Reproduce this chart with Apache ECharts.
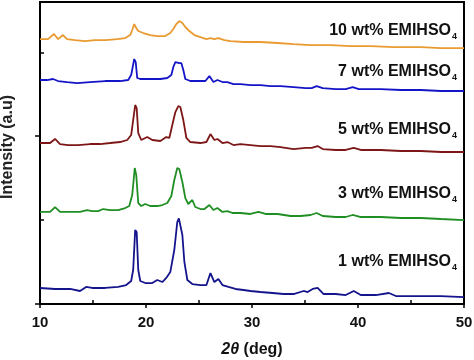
<!DOCTYPE html>
<html>
<head>
<meta charset="utf-8">
<script src="https://cdn.jsdelivr.net/npm/echarts@6/dist/echarts.min.js"></script>
<style>
html,body{margin:0;padding:0;background:#fff;}
#chart{width:474px;height:360px;}
</style>
</head>
<body>
<div id="chart"></div>
<script>
// ---- data (2θ in deg, stacked intensity in arbitrary units) ----
const seriesNames = ['1 wt% EMIHSO4', '3 wt% EMIHSO4', '5 wt% EMIHSO4', '7 wt% EMIHSO4', '10 wt% EMIHSO4'];
const seriesColors = ['#14148c', '#1f8f23', '#7d1717', '#1515c8', '#e99a30'];

const wt1 = [
[10.0,0.191],[11.42,0.179],[12.84,0.179],[13.78,0.155],[14.35,0.203],[14.92,0.191],[16.15,0.191],[17.38,0.203],
[18.13,0.226],[18.6,0.274],[18.79,0.405],[18.98,0.882],[19.12,0.858],[19.27,0.405],[19.46,0.274],[19.93,0.25],
[20.59,0.25],[21.06,0.286],[21.54,0.262],[21.91,0.31],[22.29,0.381],[22.67,0.644],[22.95,0.977],[23.1,1.02],[23.24,1.013],
[23.43,0.822],[23.62,0.501],[23.9,0.286],[24.37,0.238],[25.13,0.226],[25.7,0.226],[26.08,0.369],[26.45,0.262],
[26.83,0.298],[27.21,0.226],[27.78,0.203],[28.44,0.179],[29.2,0.167],[29.86,0.155],[30.8,0.143],[31.94,0.131],
[32.98,0.119],[33.92,0.119],[34.87,0.155],[35.25,0.143],[35.72,0.179],[36.19,0.191],[36.76,0.119],[37.9,0.119],
[38.84,0.107],[39.6,0.155],[40.26,0.107],[41.68,0.107],[42.91,0.131],[43.57,0.095],[45.93,0.095],[47.82,0.095],[50.0,0.083]
];
const wt3 = [
[10.0,1.097],[10.95,1.097],[11.42,1.156],[11.89,1.097],[12.84,1.097],[13.78,1.097],[14.44,1.12],[14.92,1.108],
[15.48,1.108],[15.96,1.132],[16.62,1.12],[17.38,1.12],[18.04,1.144],[18.42,1.168],[18.7,1.299],[18.94,1.621],
[19.08,1.537],[19.27,1.204],[19.55,1.168],[19.93,1.192],[20.4,1.168],[21.06,1.168],[21.54,1.18],[22.01,1.204],
[22.39,1.287],[22.67,1.478],[22.95,1.621],[23.14,1.609],[23.43,1.454],[23.71,1.263],[23.99,1.192],[24.37,1.24],
[24.65,1.156],[25.13,1.132],[25.51,1.132],[25.98,1.18],[26.36,1.12],[26.74,1.144],[27.21,1.097],[27.68,1.108],
[28.16,1.085],[28.91,1.085],[29.86,1.073],[30.61,1.097],[31.28,1.073],[32.41,1.073],[33.64,1.049],[34.59,1.049],
[35.53,1.061],[36.1,1.085],[36.67,1.049],[37.9,1.037],[38.84,1.037],[39.5,1.061],[40.26,1.037],[42.15,1.037],
[44.04,1.025],[45.93,1.025],[47.82,1.013],[50.0,1.001]
];
const wt5 = [
[10.0,1.919],[10.95,1.919],[11.42,1.967],[11.89,1.907],[12.65,1.895],[13.59,1.895],[14.73,1.907],[15.67,1.907],
[16.62,1.919],[17.56,1.931],[18.23,1.955],[18.6,2.014],[18.79,2.193],[18.98,2.372],[19.12,2.336],[19.27,2.038],
[19.55,1.955],[20.12,1.99],[20.59,1.955],[21.35,1.943],[21.91,1.99],[22.2,1.979],[22.48,2.133],[22.77,2.288],
[23.05,2.36],[23.24,2.348],[23.52,2.193],[23.81,1.979],[24.18,1.931],[25.13,1.919],[25.7,1.931],[26.08,2.026],
[26.45,1.955],[26.74,1.967],[27.21,1.919],[27.68,1.931],[28.25,1.895],[28.91,1.907],[29.86,1.895],[30.8,1.883],
[31.75,1.883],[32.7,1.871],[33.92,1.847],[35.06,1.86],[35.63,1.86],[36.19,1.883],[36.67,1.847],[37.9,1.836],
[38.84,1.836],[39.6,1.86],[40.26,1.836],[42.15,1.836],[44.04,1.824],[45.93,1.824],[47.82,1.812],[50.0,1.812]
];
const wt7 = [
[10.0,2.67],[10.66,2.67],[11.23,2.682],[11.7,2.658],[12.55,2.646],[13.5,2.634],[14.73,2.646],[16.15,2.658],
[17.56,2.658],[18.32,2.67],[18.6,2.729],[18.89,2.92],[19.03,2.884],[19.17,2.694],[19.46,2.682],[20.4,2.682],
[21.35,2.682],[22.01,2.694],[22.39,2.729],[22.58,2.825],[22.77,2.884],[22.95,2.884],[23.14,2.872],[23.33,2.872],
[23.52,2.789],[23.71,2.682],[24.18,2.658],[25.13,2.658],[25.6,2.658],[25.98,2.717],[26.36,2.646],[26.74,2.67],
[27.21,2.646],[27.68,2.646],[28.25,2.622],[28.91,2.622],[29.86,2.61],[30.8,2.61],[31.75,2.598],[32.7,2.598],
[33.92,2.586],[35.06,2.574],[35.63,2.574],[36.1,2.598],[36.67,2.574],[37.9,2.562],[38.84,2.562],[39.5,2.586],
[40.07,2.562],[42.15,2.562],[44.04,2.551],[45.93,2.551],[47.82,2.539],[50.0,2.539]
];
const wt10 = [
[10.0,3.158],[10.76,3.158],[11.32,3.218],[11.7,3.158],[12.17,3.206],[12.55,3.158],[13.31,3.146],[14.26,3.134],
[15.2,3.146],[16.15,3.146],[17.28,3.158],[18.04,3.17],[18.51,3.206],[18.7,3.266],[18.89,3.337],[19.08,3.29],
[19.27,3.254],[19.74,3.23],[20.4,3.206],[21.06,3.194],[21.82,3.194],[22.29,3.23],[22.58,3.278],[22.86,3.337],
[23.14,3.373],[23.43,3.349],[23.71,3.302],[24.09,3.254],[24.56,3.206],[25.13,3.182],[25.7,3.158],[26.08,3.17],
[26.45,3.158],[26.83,3.17],[27.4,3.146],[27.97,3.134],[29.2,3.123],[30.8,3.123],[32.41,3.111],[33.92,3.099],
[35.53,3.087],[37.42,3.087],[39.31,3.075],[41.21,3.075],[43.38,3.063],[45.93,3.063],[47.82,3.051],[50.0,3.051]
];
const seriesData = [wt1, wt3, wt5, wt7, wt10];

const xMajorTicks = [10, 20, 30, 40, 50];
const xMinorTicks = [15, 25, 35, 45];
const yMajorTicks = [0, 2];
const yMinorTicks = [1, 3];

// ---- chart ----
const FONT = "'Liberation Sans', Arial, sans-serif";
const chart = echarts.init(document.getElementById('chart'), null, {renderer: 'canvas'});

const labelYs = [262, 194, 130, 72, 31];
const graphics = seriesNames.map((n, i) => ({
  type: 'text',
  x: 457, y: labelYs[i],
  style: {
    text: '{a|' + n.slice(0, -1) + '}{s|' + n.slice(-1) + '}',
    align: 'right', verticalAlign: 'middle',
    rich: {
      a: {fontFamily: FONT, fontWeight: 'bold', fontSize: 16, fill: '#111', verticalAlign: 'middle'},
      s: {fontFamily: FONT, fontWeight: 'bold', fontSize: 9, fill: '#111', padding: [12, 0, 0, 1]}
    }
  }
}));

const option = {
  animation: false,
  backgroundColor: '#fff',
  grid: {left: 40, right: 10, top: 2, bottom: 56, outerBoundsMode: 'none', containLabel: false,
    show: true, borderColor: '#000', borderWidth: 2, backgroundColor: 'transparent'},
  xAxis: [{
    type: 'value', min: 10, max: 50, interval: 10, position: 'bottom',
    axisLine: {show: true, onZero: false, lineStyle: {color: '#000', width: 2}},
    axisTick: {show: true, inside: false, length: 4, customValues: xMajorTicks, lineStyle: {color: '#000', width: 1.5}},
    axisLabel: {show: true, margin: 11, color: '#111', fontFamily: FONT, fontWeight: 'bold', fontSize: 15, customValues: xMajorTicks},
    splitLine: {show: false},
    name: '{i|2θ} (deg)', nameLocation: 'middle', nameGap: 38,
    nameTextStyle: {color: '#111', fontFamily: FONT, fontWeight: 'bold', fontSize: 16,
      rich: {i: {fontFamily: FONT, fontWeight: 'bold', fontStyle: 'italic', fontSize: 16, color: '#111'}}}
  }, {
    type: 'value', min: 10, max: 50, interval: 5, position: 'bottom',
    axisLine: {show: false, onZero: false},
    axisTick: {show: true, inside: true, length: 4, customValues: xMinorTicks, lineStyle: {color: '#000', width: 1.5}},
    axisLabel: {show: false},
    splitLine: {show: false}
  }],
  yAxis: [{
    type: 'value', min: 0, max: 3.6, interval: 1, position: 'left',
    axisLine: {show: true, onZero: false, lineStyle: {color: '#000', width: 2}},
    axisTick: {show: true, inside: false, length: 5, customValues: yMajorTicks, lineStyle: {color: '#000', width: 1.5}},
    axisLabel: {show: false},
    splitLine: {show: false},
    name: 'Intensity (a.u)', nameLocation: 'middle', nameGap: 24,
    nameTextStyle: {color: '#222', fontFamily: FONT, fontWeight: 'bold', fontSize: 16, padding: [0, 0, 0, 12]}
  }, {
    type: 'value', min: 0, max: 3.6, interval: 1, position: 'left',
    axisLine: {show: false, onZero: false},
    axisTick: {show: true, inside: true, length: 4, customValues: yMinorTicks, lineStyle: {color: '#000', width: 1.5}},
    axisLabel: {show: false},
    splitLine: {show: false}
  }],
  series: seriesData.map((d, i) => ({
    name: seriesNames[i],
    type: 'line',
    xAxisIndex: 0, yAxisIndex: 0,
    data: d,
    showSymbol: false,
    smooth: false,
    lineStyle: {color: seriesColors[i], width: 1.8},
    itemStyle: {color: seriesColors[i]},
    z: 3
  })),
  graphic: graphics
};
chart.setOption(option);
</script>
</body>
</html>
